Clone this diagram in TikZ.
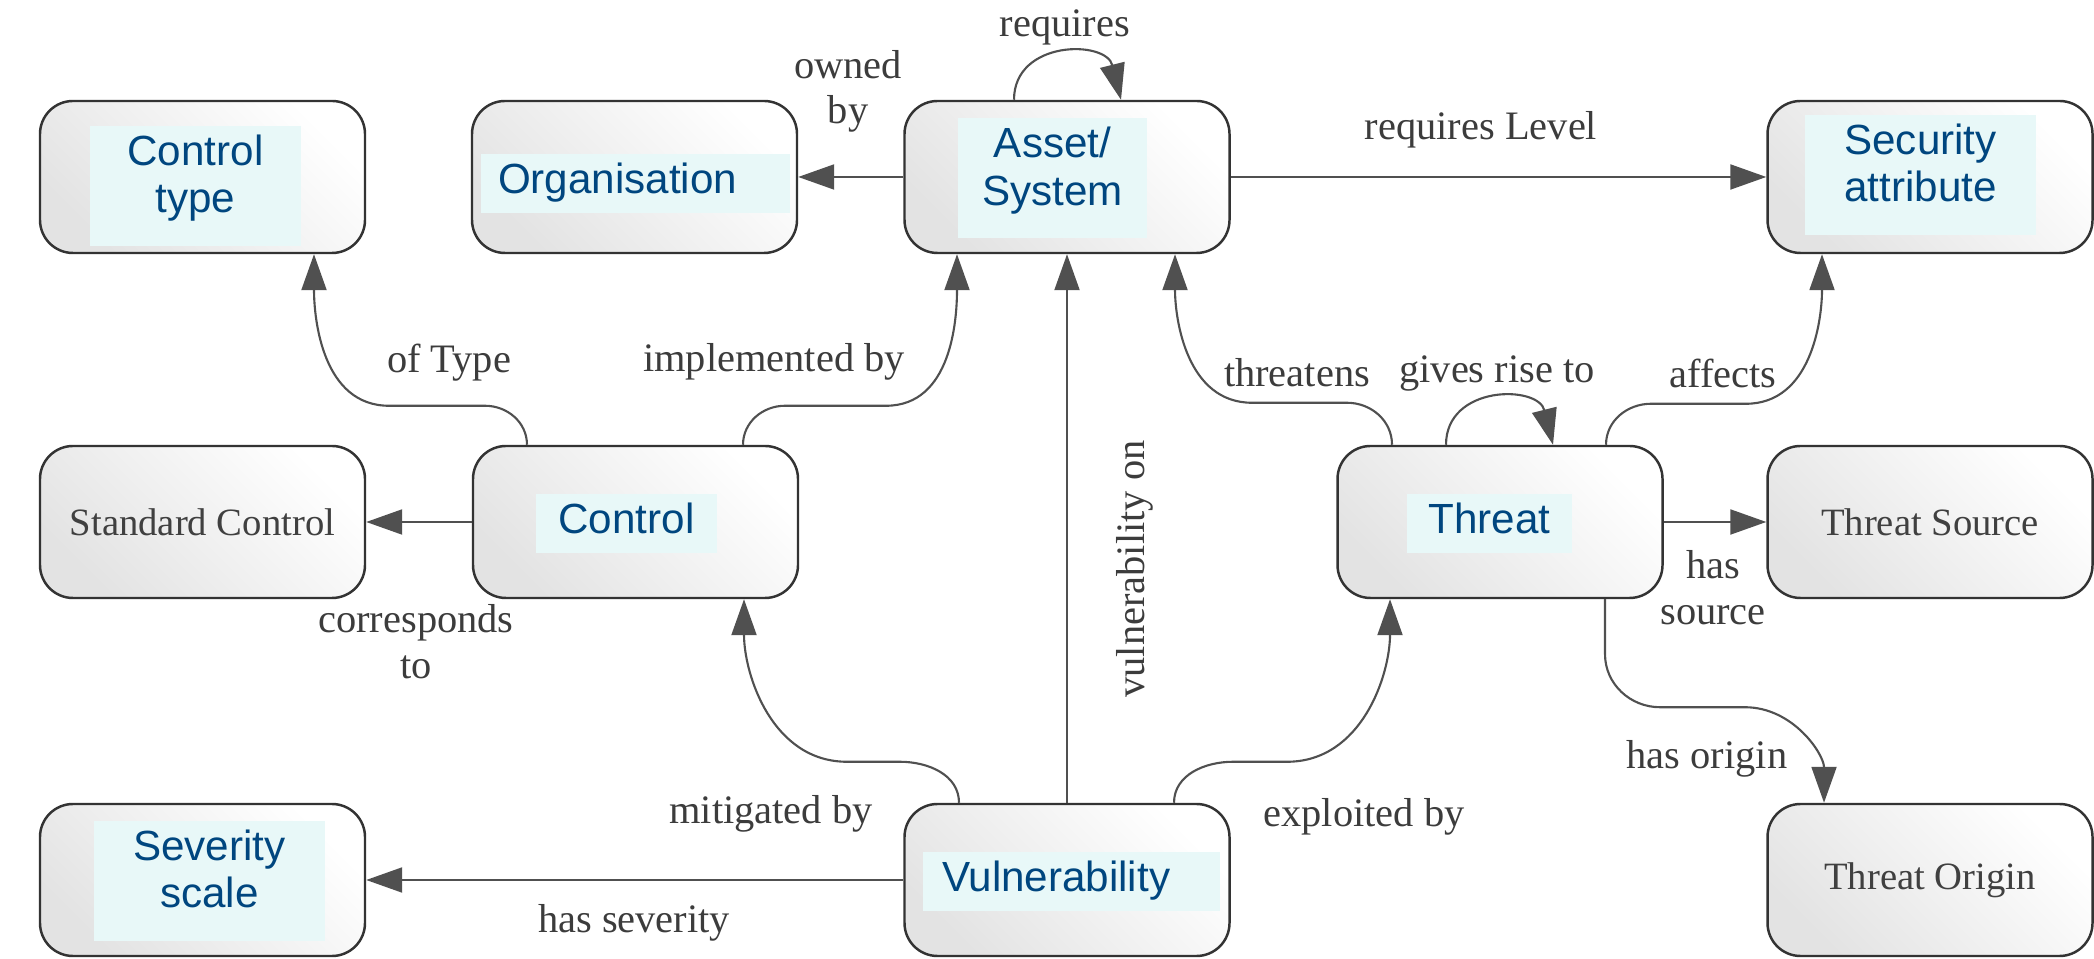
\documentclass[tikz,border=0pt]{standalone}
\usepackage{fontspec}
\setmainfont{Liberation Serif}
\newfontfamily\patchfont{Liberation Sans}
\usetikzlibrary{arrows.meta,positioning}

\definecolor{patchbg}{RGB}{232,248,248}
\definecolor{patchtxt}{RGB}{0,70,127}
\definecolor{edgegray}{RGB}{80,80,80}
\definecolor{lbltxt}{RGB}{60,60,60}

\tikzset{
  concept/.style={rectangle, rounded corners=0.33cm, draw=black!80, line width=0.7pt,
    minimum width=3.25cm, minimum height=1.52cm,
    top color=white, bottom color=gray!22, shading angle=-45,
    font=\fontsize{11}{13}\selectfont, text=black!75},
  patch/.style={fill=patchbg, inner sep=0pt, align=center, text=patchtxt,
    font=\patchfont\fontsize{12}{13.6}\selectfont},
  oneline/.style={patch, minimum height=0.59cm, text height=0.395cm, text depth=0.195cm},
  twoline/.style={patch, minimum height=1.20cm, text height=0.87cm, text depth=0.33cm},
  rel/.style={draw=edgegray, line width=0.6pt, -{Triangle[length=0.36cm,width=0.25cm]}},
  lbl/.style={font=\fontsize{11.5}{13}\selectfont, text=lbltxt, align=center, inner sep=1pt},
}

\begin{document}
\begin{tikzpicture}
\useasboundingbox (0,0) rectangle (20.94,9.59);

% concepts
\node[concept] (ctype)   at (2.025,7.82) {};
\node[concept] (org)     at (6.345,7.82) {};
\node[concept] (asset)   at (10.67,7.82) {};
\node[concept] (secattr) at (19.30,7.82) {};
\node[concept] (stdctrl) at (2.025,4.37) {Standard Control};
\node[concept] (ctrl)    at (6.355,4.37) {};
\node[concept] (threat)  at (15.00,4.37) {};
\node[concept] (tsource) at (19.30,4.37) {Threat Source};
\node[concept] (sev)     at (2.025,0.79) {};
\node[concept] (vuln)    at (10.67,0.79) {};
\node[concept] (torigin) at (19.30,0.79) {Threat Origin};

% relabelled concepts
\node[twoline, minimum width=2.11cm] (ctypep) at (1.955,7.73) {Control\\type};
\node[oneline, text width=2.75cm, inner xsep=0.17cm, align=left] (orgp) at (6.355,7.755) {Organisation};
\node[twoline, minimum width=1.89cm] (assetp) at (10.525,7.805) {Asset/\\System};
\node[twoline, minimum width=2.31cm] (secattrp) at (19.205,7.84) {Security\\attribute};
\node[oneline, minimum width=1.81cm] (ctrlp) at (6.265,4.355) {Control};
\node[oneline, minimum width=1.65cm] (threatp) at (14.895,4.355) {Threat};
\node[twoline, minimum width=2.31cm] (sevp) at (2.095,0.78) {Severity\\scale};
\node[oneline, text width=2.59cm, inner xsep=0.19cm, align=left] (vulnp) at (10.715,0.775) {Vulnerability};

% straight relations
\draw[rel] (asset) -- (org);
\draw[rel] (asset) -- (secattr);
\draw[rel] (ctrl) -- (stdctrl);
\draw[rel] (threat) -- (tsource);
\draw[rel] (vuln) -- (sev);
\draw[rel] (vuln) -- (asset);

% curved relations
\draw[rel] ([xshift=-1.085cm]ctrl.north) to[out=90,in=0] ++(-0.42,0.39) -- ++(-0.96,0) to[out=180,in=-90] ([xshift=1.115cm]ctype.south);
\draw[rel] ([xshift=1.075cm]ctrl.north) to[out=90,in=180] ++(0.42,0.39) -- ++(1.01,0) to[out=0,in=-90] ([xshift=-1.10cm]asset.south);
\draw[rel] ([xshift=-1.08cm]vuln.north) to[out=90,in=0] ++(-0.59,0.41) -- ++(-0.53,0) to[out=180,in=-90] ([xshift=1.085cm]ctrl.south);
\draw[rel] ([xshift=1.07cm]vuln.north) to[out=90,in=180] ++(0.59,0.41) -- ++(0.54,0) to[out=0,in=-90] ([xshift=-1.10cm]threat.south);
\draw[rel] ([xshift=-1.08cm]threat.north) to[out=90,in=0] ++(-0.45,0.42) -- ++(-0.95,0) to[out=180,in=-90] ([xshift=1.08cm]asset.south);
\draw[rel] ([xshift=1.06cm]threat.north) to[out=90,in=180] ++(0.45,0.41) -- ++(0.95,0) to[out=0,in=-90] ([xshift=-1.08cm]secattr.south);
\draw[rel] ([xshift=1.05cm]threat.south) -- ++(0,-0.55) to[out=-90,in=180] ++(0.55,-0.53) -- ++(0.85,0) to[out=0,in=90] ([xshift=-1.06cm]torigin.north);

% self loops
\draw[rel] ([xshift=-0.53cm]asset.north) .. controls +(0,0.6) and +(-0.15,0.6) .. ([xshift=0.54cm]asset.north);
\draw[rel] ([xshift=-0.54cm]threat.north) .. controls +(0,0.6) and +(-0.15,0.6) .. ([xshift=0.53cm]threat.north);

% relation labels
\node[lbl] (lowned)   at (8.48,8.675) {owned\\by};
\node[lbl] (lreq)     at (10.65,9.32) {requires};
\node[lbl] (lreqlvl)  at (14.81,8.29) {requires Level};
\node[lbl] (ltype)    at (4.49,5.96) {of Type};
\node[lbl] (limpl)    at (7.74,5.97) {implemented by};
\node[lbl] (lthr)     at (12.97,5.86) {threatens};
\node[lbl] (lrise)    at (14.97,5.86) {gives rise to};
\node[lbl] (laff)     at (17.23,5.86) {affects};
\node[lbl] (lcorr)    at (4.16,3.17) {corresponds\\to};
\node[lbl] (lsrc)     at (17.13,3.715) {has\\source};
\node[lbl, rotate=90] (lvon) at (11.35,3.90) {vulnerability on};
\node[lbl] (lmit)     at (7.71,1.45) {mitigated by};
\node[lbl] (lexp)     at (13.64,1.42) {exploited by};
\node[lbl] (lsev)     at (6.34,0.36) {has severity};
\node[lbl] (lorig)    at (17.07,2.00) {has origin};
\end{tikzpicture}
\end{document}
